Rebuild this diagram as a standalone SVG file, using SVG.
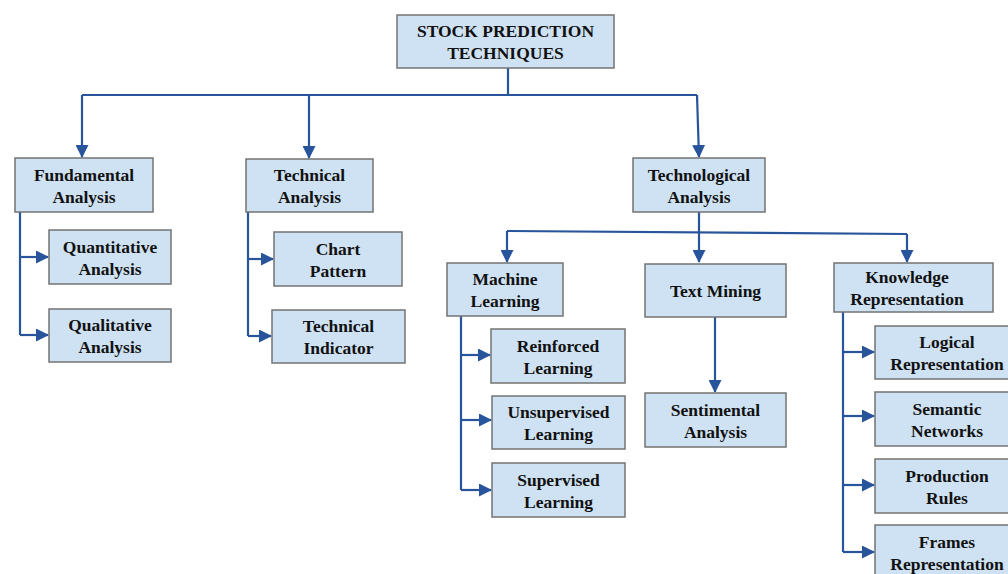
<svg xmlns="http://www.w3.org/2000/svg" width="1008" height="574" viewBox="0 0 1008 574">
<defs>
<marker id="ah" markerUnits="userSpaceOnUse" markerWidth="13" markerHeight="13" viewBox="0 0 13 13" refX="12" refY="6.5" orient="auto">
<path d="M0,0 L13,6.5 L0,13 Z" fill="#27549a"/>
</marker>
</defs>
<style>
.box{fill:#cfe2f3;stroke:#737373;stroke-width:1.5}
.t{font-family:"Liberation Serif","Times New Roman",serif;font-weight:bold;font-size:17.5px;fill:#111;text-anchor:middle}
.c{fill:none;stroke:#27549a;stroke-width:2.2;stroke-linejoin:miter}
.a{marker-end:url(#ah)}
</style>
<rect width="1008" height="574" fill="#fff"/>
<g id="connectors">
<path class="c" d="M508,68 V95"/>
<path class="c" d="M82,95 H697"/>
<path class="c a" d="M82,95 V157"/>
<path class="c a" d="M309,95 V158"/>
<path class="c a" d="M697,95 L699,157"/>
<path class="c" d="M20,212 V335"/>
<path class="c a" d="M20,257 H48"/>
<path class="c a" d="M20,335 H48"/>
<path class="c" d="M248,212 V336"/>
<path class="c a" d="M248,259 H273"/>
<path class="c a" d="M248,336 H271"/>
<path class="c" d="M699,212 V231"/>
<path class="c" d="M507,231 L907,234"/>
<path class="c a" d="M507,231 V262"/>
<path class="c a" d="M699,231 V262"/>
<path class="c a" d="M907,234 V262"/>
<path class="c" d="M461,316 V490"/>
<path class="c a" d="M461,355 H490"/>
<path class="c a" d="M461,420 H491"/>
<path class="c a" d="M461,490 H491"/>
<path class="c a" d="M715,317 V392"/>
<path class="c" d="M843,312 V552"/>
<path class="c a" d="M843,352 H874"/>
<path class="c a" d="M843,416 H874"/>
<path class="c a" d="M843,485 H874"/>
<path class="c a" d="M843,552 H874"/>
</g>
<g id="root"><rect class="box" x="397" y="15" width="217" height="53"/><text class="t" x="505.5" y="37">STOCK PREDICTION</text><text class="t" x="505.5" y="59">TECHNIQUES</text></g>
<g id="fundamental"><rect class="box" x="15" y="158" width="138" height="54"/><text class="t" x="84" y="180.5">Fundamental</text><text class="t" x="84" y="202.5">Analysis</text></g>
<g id="technical"><rect class="box" x="246" y="159" width="127" height="53"/><text class="t" x="309.5" y="181">Technical</text><text class="t" x="309.5" y="203">Analysis</text></g>
<g id="technological"><rect class="box" x="633" y="158" width="132" height="54"/><text class="t" x="699" y="180.5">Technological</text><text class="t" x="699" y="202.5">Analysis</text></g>
<g id="quantitative"><rect class="box" x="49" y="230" width="122" height="54"/><text class="t" x="110" y="252.5">Quantitative</text><text class="t" x="110" y="274.5">Analysis</text></g>
<g id="qualitative"><rect class="box" x="49" y="309" width="122" height="53"/><text class="t" x="110" y="331">Qualitative</text><text class="t" x="110" y="353">Analysis</text></g>
<g id="chart"><rect class="box" x="274" y="232" width="128" height="54"/><text class="t" x="338" y="254.5">Chart</text><text class="t" x="338" y="276.5">Pattern</text></g>
<g id="indicator"><rect class="box" x="272" y="310" width="133" height="53"/><text class="t" x="338.5" y="332">Technical</text><text class="t" x="338.5" y="354">Indicator</text></g>
<g id="ml"><rect class="box" x="447" y="263" width="116" height="53"/><text class="t" x="505" y="285">Machine</text><text class="t" x="505" y="307">Learning</text></g>
<g id="textmining"><rect class="box" x="645" y="264" width="141" height="53"/><text class="t" x="715.5" y="297">Text Mining</text></g>
<g id="kr"><rect class="box" x="834" y="263" width="159" height="49"/><text class="t" x="907" y="283">Knowledge</text><text class="t" x="907" y="305">Representation</text></g>
<g id="reinforced"><rect class="box" x="491" y="329" width="134" height="54"/><text class="t" x="558" y="351.5">Reinforced</text><text class="t" x="558" y="373.5">Learning</text></g>
<g id="unsupervised"><rect class="box" x="492" y="396" width="133" height="53"/><text class="t" x="558.5" y="418">Unsupervised</text><text class="t" x="558.5" y="440">Learning</text></g>
<g id="supervised"><rect class="box" x="492" y="463" width="133" height="54"/><text class="t" x="558.5" y="485.5">Supervised</text><text class="t" x="558.5" y="507.5">Learning</text></g>
<g id="sentimental"><rect class="box" x="645" y="393" width="141" height="54"/><text class="t" x="715.5" y="415.5">Sentimental</text><text class="t" x="715.5" y="437.5">Analysis</text></g>
<g id="logical"><rect class="box" x="875" y="326" width="140" height="53"/><text class="t" x="947" y="348">Logical</text><text class="t" x="947" y="370">Representation</text></g>
<g id="semantic"><rect class="box" x="875" y="392" width="140" height="54"/><text class="t" x="947" y="414.5">Semantic</text><text class="t" x="947" y="436.5">Networks</text></g>
<g id="production"><rect class="box" x="875" y="459" width="140" height="54"/><text class="t" x="947" y="481.5">Production</text><text class="t" x="947" y="503.5">Rules</text></g>
<g id="frames"><rect class="box" x="875" y="525" width="140" height="60"/><text class="t" x="947" y="548">Frames</text><text class="t" x="947" y="570">Representation</text></g>
</svg>
